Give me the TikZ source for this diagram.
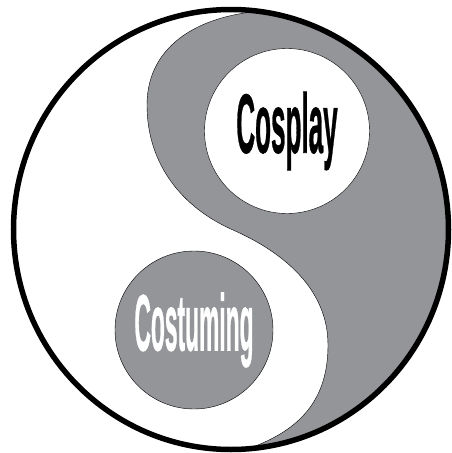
\documentclass[tikz,border=0pt]{standalone}
\usepackage{fontspec}
\setmainfont{Liberation Sans}
\newfontfamily\yinyangfont[FakeBold=1]{Liberation Sans Bold}
\usepackage{graphicx}
\definecolor{yygray}{RGB}{147,149,152}

\begin{document}
\begin{tikzpicture}
            [x=1pt, y=-1pt,
            disc/.style={circle, draw=black, thin, inner sep=0pt},
            sline/.style={draw=black, thin}]
            \useasboundingbox (0,0) rectangle (451,453);
            \coordinate (top) at (285,10);
            \coordinate (left) at (147,105);
            \coordinate (mid) at (233,230);
            \coordinate (right) at (328,345);
            \coordinate (bottom) at (250,448);
            \begin{scope}
                \clip (231,229.5) ellipse [x radius=217.5, y radius=220];
                \fill [yygray] (top) .. controls (200,10) and (147,45) .. (left)
                    .. controls (147,165) and (183,208) .. (mid)
                    .. controls (285,253) and (328,290) .. (right)
                    .. controls (328,400) and (300,430) .. (bottom)
                    -- (250,470) -- (470,470) -- (470,-10) -- (285,-10) -- cycle;
                \path [sline] (top) .. controls (200,10) and (147,45) .. (left)
                    .. controls (147,165) and (183,208) .. (mid)
                    .. controls (285,253) and (328,290) .. (right)
                    .. controls (328,400) and (300,430) .. (bottom);
            \end{scope}
            \draw [line width=5.5pt] (231,229.5) ellipse [x radius=217.5, y radius=220];
            \node [disc, fill=white, minimum size=165pt] (cosplay) at (287,131)
                {\scalebox{0.31}[1]{\fontsize{84}{84}\yinyangfont Cosplay}};
            \node [disc, fill=yygray, text=white, minimum size=158pt] (costuming) at (194,330)
                {\scalebox{0.285}[1]{\fontsize{80}{80}\yinyangfont Costuming}};
\end{tikzpicture}
\end{document}
